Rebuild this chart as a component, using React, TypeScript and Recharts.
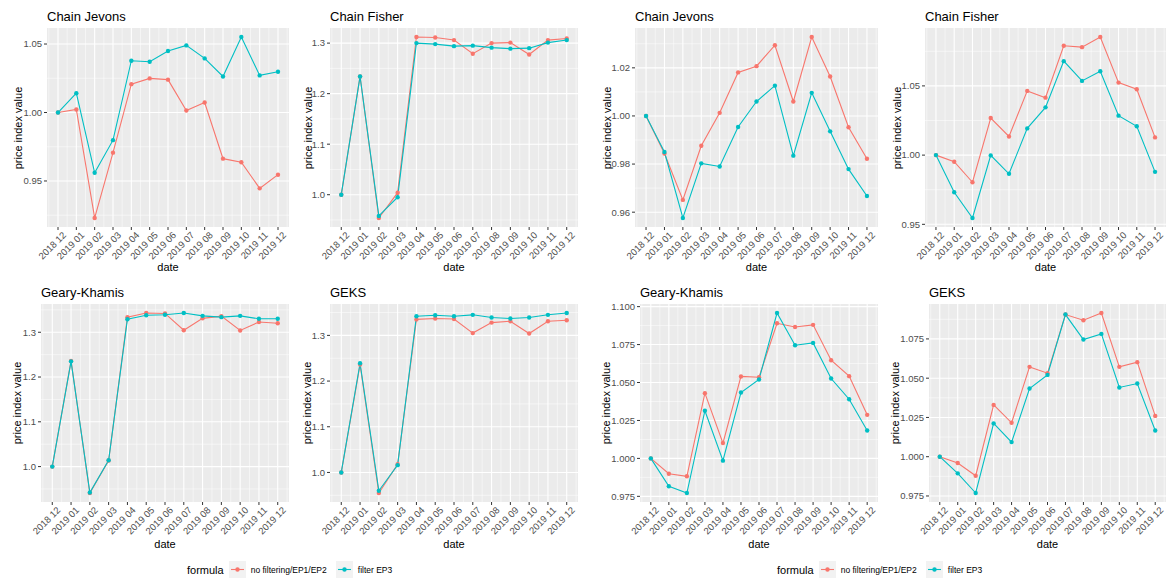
import { LineChart, Line, XAxis, YAxis, CartesianGrid } from 'recharts'

const months = ['2018 12', '2019 01', '2019 02', '2019 03', '2019 04', '2019 05', '2019 06', '2019 07', '2019 08', '2019 09', '2019 10', '2019 11', '2019 12']
const seriesNames = ['no filtering/EP1/EP2', 'filter EP3']

// left block
const jevonsA_red = [1.0, 1.0022, 0.923, 0.9707, 1.0207, 1.0249, 1.024, 1.0015, 1.0073, 0.9663, 0.9637, 0.9446, 0.9546]
const jevonsA_cyan = [1.0, 1.0141, 0.956, 0.9798, 1.0378, 1.0371, 1.0449, 1.049, 1.0395, 1.0263, 1.0551, 1.0271, 1.0298]
const fisherA_red = [1.0, 1.234, 0.954, 1.004, 1.312, 1.311, 1.306, 1.279, 1.3, 1.301, 1.2775, 1.306, 1.309]
const fisherA_cyan = [1.0, 1.234, 0.958, 0.995, 1.3, 1.298, 1.294, 1.295, 1.291, 1.289, 1.29, 1.301, 1.306]
const gkA_red = [1.0, 1.236, 0.941, 1.0135, 1.3337, 1.343, 1.342, 1.3045, 1.331, 1.336, 1.304, 1.323, 1.32]
const gkA_cyan = [1.0, 1.235, 0.942, 1.014, 1.329, 1.338, 1.339, 1.343, 1.3366, 1.3337, 1.3366, 1.33, 1.33]
const geksA_red = [1.0, 1.236, 0.955, 1.018, 1.335, 1.337, 1.336, 1.305, 1.328, 1.331, 1.304, 1.331, 1.333]
const geksA_cyan = [1.0, 1.239, 0.96, 1.016, 1.342, 1.344, 1.342, 1.345, 1.339, 1.337, 1.339, 1.345, 1.349]

// right block
const jevonsB_red = [1.0, 0.9844, 0.9651, 0.9876, 1.0013, 1.0181, 1.0207, 1.0294, 1.006, 1.0328, 1.0164, 0.9953, 0.9822]
const jevonsB_cyan = [1.0, 0.985, 0.9576, 0.9803, 0.979, 0.9954, 1.006, 1.0126, 0.9835, 1.0096, 0.9936, 0.9779, 0.9667]
const fisherB_red = [1.0, 0.9952, 0.9804, 1.0268, 1.0135, 1.0464, 1.0415, 1.079, 1.078, 1.0853, 1.0524, 1.0476, 1.0128]
const fisherB_cyan = [1.0, 0.9732, 0.9546, 0.9998, 0.9865, 1.0193, 1.0345, 1.0679, 1.0536, 1.0606, 1.0285, 1.0208, 0.9879]
const gkB_red = [1.0, 0.9899, 0.9882, 1.043, 1.0101, 1.054, 1.0535, 1.089, 1.0866, 1.088, 1.0647, 1.0542, 1.0287]
const gkB_cyan = [1.0, 0.9816, 0.9772, 1.0314, 0.9985, 1.0434, 1.052, 1.0958, 1.0746, 1.0761, 1.0526, 1.039, 1.0184]
const geksB_red = [1.0, 0.996, 0.9879, 1.033, 1.0216, 1.0572, 1.0532, 1.0905, 1.0869, 1.0915, 1.0572, 1.0602, 1.026]
const geksB_cyan = [1.0, 0.9894, 0.9769, 1.0212, 1.0093, 1.0434, 1.0521, 1.0905, 1.0746, 1.0782, 1.0441, 1.0466, 1.0167]

const RED = '#F8766D'
const CYAN = '#00BFC4'
const FONT = "'Liberation Sans', Arial, sans-serif"

const majorX = months.map((_, i) => i)
const minorX = [-0.5, ...months.map((_, i) => i + 0.5)]

const MonthTick = (props: any) => {
  const { x, y, payload } = props
  const ax = x + 4
  const ay = y
  return (
    <text x={ax} y={ay} dy="0.71em" textAnchor="end" transform={`rotate(-45 ${ax} ${ay})`}
      fontSize={9.5} fill="#4D4D4D" fontFamily={FONT}>
      {months[payload.value]}
    </text>
  )
}

interface Box { l: number; r: number; t: number; b: number; yl: number }

function Panel({ title, red, cyan, major, minor, digits, box }: {
  title: string; red: number[]; cyan: number[]; major: number[]; minor: number[]; digits: number; box: Box
}) {
  const { l, r, t, b, yl } = box
  const plotW = r - l
  const plotH = b - t
  const axisW = 45
  const padTop = 8
  const data = months.map((m, i) => ({ i, m, red: red[i], cyan: cyan[i] }))
  const all = [...red, ...cyan]
  const lo = Math.min(...all)
  const hi = Math.max(...all)
  const pad = (hi - lo) * 0.05

  return (
    <>
      <div style={{ position: 'absolute', left: l, top: t - 18, fontSize: 13, lineHeight: '13px', whiteSpace: 'nowrap' }}>{title}</div>
      <div style={{ position: 'absolute', left: l - axisW, top: t - padTop }}>
        <LineChart width={axisW + plotW} height={plotH + 40 + padTop} data={data} margin={{ top: padTop, right: 0, bottom: 0, left: 0 }}>
          <CartesianGrid fill="#EBEBEB" stroke="#FFFFFF" strokeWidth={0.5} horizontalValues={minor} verticalValues={minorX} />
          <CartesianGrid stroke="#FFFFFF" strokeWidth={1.1} horizontalValues={major} verticalValues={majorX} />
          <XAxis dataKey="i" type="number" domain={[-0.6, 12.6]} ticks={majorX} allowDataOverflow interval={0}
            height={40} tick={<MonthTick />} tickSize={3} tickMargin={1} axisLine={false} tickLine={{ stroke: '#333333' }} />
          <YAxis type="number" domain={[lo - pad, hi + pad]} allowDataOverflow ticks={major} interval={0} width={axisW}
            tickFormatter={(v: number) => v.toFixed(digits)} tickSize={3} tickMargin={2} axisLine={false}
            tickLine={{ stroke: '#333333' }} tick={{ fontSize: 9.5, fill: '#4D4D4D', fontFamily: FONT }} />
          <Line dataKey="red" stroke={RED} strokeWidth={1.1} dot={{ r: 2.2, fill: RED, stroke: 'none' }} activeDot={false} isAnimationActive={false} />
          <Line dataKey="cyan" stroke={CYAN} strokeWidth={1.1} dot={{ r: 2.2, fill: CYAN, stroke: 'none' }} activeDot={false} isAnimationActive={false} />
        </LineChart>
      </div>
      <div style={{ position: 'absolute', left: yl - plotH / 2, top: t + plotH / 2 - 6, width: plotH, textAlign: 'center', fontSize: 11, lineHeight: '12px', transform: 'rotate(-90deg)', whiteSpace: 'nowrap' }}>
        price index value
      </div>
    </>
  )
}

function Legend({ x }: { x: number }) {
  const colors = [RED, CYAN]
  return (
    <div style={{ position: 'absolute', left: x, top: 561, display: 'flex', alignItems: 'center', whiteSpace: 'nowrap' }}>
      <span style={{ fontSize: 11, marginRight: 5 }}>formula</span>
      {seriesNames.map((n, k) => (
        <span key={n} style={{ display: 'flex', alignItems: 'center', marginRight: 9 }}>
          <svg width={17} height={17}>
            <rect width={17} height={17} fill="#F2F2F2" />
            <line x1={2} x2={15} y1={8.5} y2={8.5} stroke={colors[k]} strokeWidth={1.1} />
            <circle cx={8.5} cy={8.5} r={2.2} fill={colors[k]} />
          </svg>
          <span style={{ fontSize: 8.5, marginLeft: 5 }}>{n}</span>
        </span>
      ))}
    </div>
  )
}

const XLabel = ({ l, r, y }: { l: number; r: number; y: number }) => (
  <div style={{ position: 'absolute', left: l, width: r - l, top: y - 6, textAlign: 'center', fontSize: 11, lineHeight: '12px' }}>date</div>
)

export default function App() {
  const top = { t: 28, b: 227 }
  const bot = { t: 304, b: 502 }
  return (
    <div style={{ position: 'absolute', left: 0, top: 0, width: 1166, height: 581, background: '#fff', fontFamily: FONT, color: '#000', overflow: 'hidden' }}>
      <Panel title="Chain Jevons" red={jevonsA_red} cyan={jevonsA_cyan} major={[0.95, 1.0, 1.05]} minor={[0.925, 0.975, 1.025]} digits={2}
        box={{ l: 47, r: 289, ...top, yl: 17 }} />
      <Panel title="Chain Fisher" red={fisherA_red} cyan={fisherA_cyan} major={[1.0, 1.1, 1.2, 1.3]} minor={[0.95, 1.05, 1.15, 1.25]} digits={1}
        box={{ l: 330, r: 578, ...top, yl: 307 }} />
      <Panel title="Chain Jevons" red={jevonsB_red} cyan={jevonsB_cyan} major={[0.96, 0.98, 1.0, 1.02]} minor={[0.97, 0.99, 1.01, 1.03]} digits={2}
        box={{ l: 635, r: 878, ...top, yl: 606 }} />
      <Panel title="Chain Fisher" red={fisherB_red} cyan={fisherB_cyan} major={[0.95, 1.0, 1.05]} minor={[0.975, 1.025, 1.075]} digits={2}
        box={{ l: 925, r: 1166, ...top, yl: 896 }} />
      <Panel title="Geary-Khamis" red={gkA_red} cyan={gkA_cyan} major={[1.0, 1.1, 1.2, 1.3]} minor={[0.95, 1.05, 1.15, 1.25, 1.35]} digits={1}
        box={{ l: 41, r: 289, ...bot, yl: 17 }} />
      <Panel title="GEKS" red={geksA_red} cyan={geksA_cyan} major={[1.0, 1.1, 1.2, 1.3]} minor={[0.95, 1.05, 1.15, 1.25, 1.35]} digits={1}
        box={{ l: 330, r: 578, ...bot, yl: 307 }} />
      <Panel title="Geary-Khamis" red={gkB_red} cyan={gkB_cyan} major={[0.975, 1.0, 1.025, 1.05, 1.075, 1.1]} minor={[0.9875, 1.0125, 1.0375, 1.0625, 1.0875]} digits={3}
        box={{ l: 640, r: 878, ...bot, yl: 606 }} />
      <Panel title="GEKS" red={geksB_red} cyan={geksB_cyan} major={[0.975, 1.0, 1.025, 1.05, 1.075]} minor={[0.9875, 1.0125, 1.0375, 1.0625, 1.0875]} digits={3}
        box={{ l: 929, r: 1166, ...bot, yl: 895 }} />
      <XLabel l={47} r={289} y={267} />
      <XLabel l={330} r={578} y={267} />
      <XLabel l={635} r={878} y={267} />
      <XLabel l={925} r={1166} y={267} />
      <XLabel l={41} r={289} y={544} />
      <XLabel l={330} r={578} y={544} />
      <XLabel l={640} r={878} y={544} />
      <XLabel l={929} r={1166} y={544} />
      <Legend x={187} />
      <Legend x={777} />
    </div>
  )
}
